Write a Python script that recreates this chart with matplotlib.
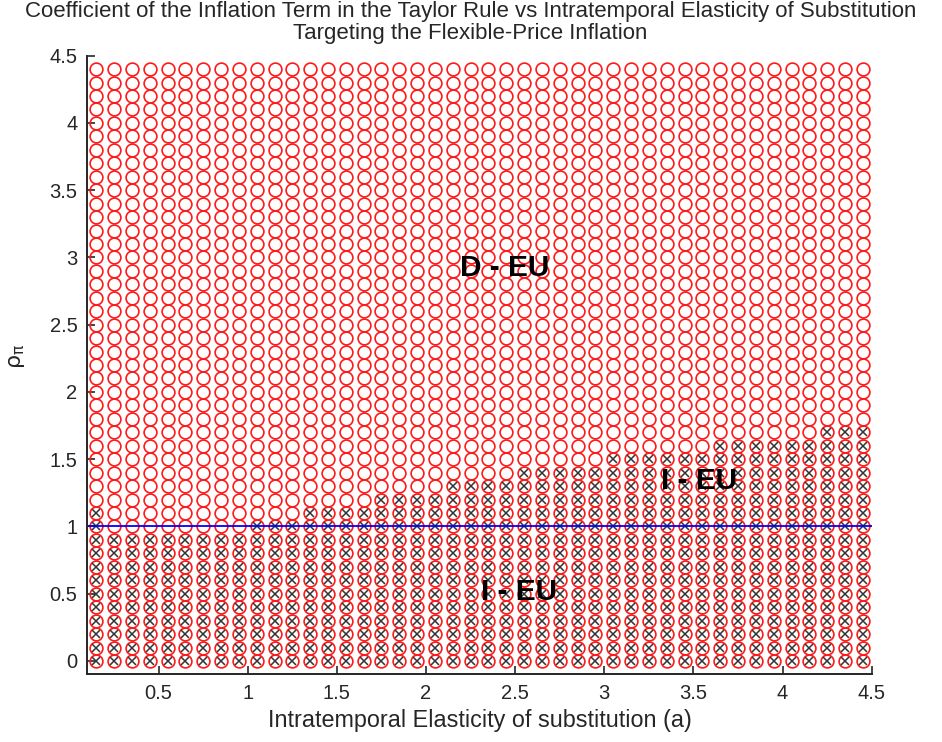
import numpy as np
import matplotlib
matplotlib.use("Agg")
import matplotlib.pyplot as plt
from matplotlib.ticker import FormatStrFormatter

# grid of the experiment: elasticity a (columns) and rho_pi (rows)
a_grid = np.round(np.arange(0.15, 4.46, 0.1), 2)
rho_grid = np.round(np.arange(0.0, 4.41, 0.1), 2)

# highest rho_pi of the indeterminacy (I - EU) region for each column of a
indet_upper = [1.1,
               0.9, 0.9, 0.9, 0.9, 0.9, 0.9, 0.9, 0.9,
               1.0, 1.0, 1.0,
               1.1, 1.1, 1.1, 1.1,
               1.2, 1.2, 1.2, 1.2,
               1.3, 1.3, 1.3, 1.3,
               1.4, 1.4, 1.4, 1.4, 1.4,
               1.5, 1.5, 1.5, 1.5, 1.5, 1.5,
               1.6, 1.6, 1.6, 1.6, 1.6, 1.6,
               1.7, 1.7, 1.7]

region_labels = ["D - EU", "I - EU", "I - EU"]
label_x = [2.19, 3.32, 2.31]
label_y = [2.92, 1.34, 0.51]

x_ticks = [0.5, 1, 1.5, 2, 2.5, 3, 3.5, 4, 4.5]
y_ticks = [0, 0.5, 1, 1.5, 2, 2.5, 3, 3.5, 4, 4.5]

plt.rcParams['font.family'] = ['Liberation Sans', 'DejaVu Sans']

fig = plt.figure(figsize=(9.42, 7.42), dpi=100)
ax = fig.add_axes([0.0927, 0.0911, 0.8327, 0.8339])

A, R = np.meshgrid(a_grid, rho_grid)
ax.plot(A.ravel(), R.ravel(), linestyle='none', marker='o', markersize=9.2,
        markerfacecolor='none', markeredgecolor='#ff1a1a', markeredgewidth=1.2)

thr = np.array(indet_upper)[None, :]
mask = R <= thr + 1e-9
ax.plot(A[mask], R[mask], linestyle='none', marker='x', markersize=6,
        color='#333333', markeredgewidth=1.1)

ax.axhline(1.0, color='#0000ff', linewidth=1.3)

for txt, tx, ty in zip(region_labels, label_x, label_y):
    ax.text(tx, ty, txt, fontsize=21.5, fontweight='bold', ha='left', va='center')

ax.set_xlim(0.1, 4.5)
ax.set_ylim(-0.1, 4.5)
ax.set_xticks(x_ticks)
ax.set_yticks(y_ticks)
ax.xaxis.set_major_formatter(FormatStrFormatter('%g'))
ax.yaxis.set_major_formatter(FormatStrFormatter('%g'))
ax.tick_params(direction='in', length=6, width=1.2, labelsize=14.5,
               colors='#262626', pad=7)

for side in ['top', 'right']:
    ax.spines[side].set_visible(False)
for side in ['left', 'bottom']:
    ax.spines[side].set_linewidth(1.4)
    ax.spines[side].set_color('#262626')

ax.set_xlabel('Intratemporal Elasticity of substitution (a)', fontsize=16.8,
              color='#262626', labelpad=4)
fig.text(0.017, 0.52, r'$\mathrm{\rho}_{\mathrm{\pi}}$', rotation=90, fontsize=16,
         ha='center', va='center', color='#262626')

fig.text(0.4995, 0.9845, 'Coefficient of the Inflation Term in the Taylor Rule '
         'vs Intratemporal Elasticity of Substitution', fontsize=16,
         ha='center', va='center', color='#262626')
fig.text(0.4995, 0.9545, 'Targeting the Flexible-Price Inflation', fontsize=16,
         ha='center', va='center', color='#262626')

fig.savefig('out.png', dpi=100)
plt.close(fig)
